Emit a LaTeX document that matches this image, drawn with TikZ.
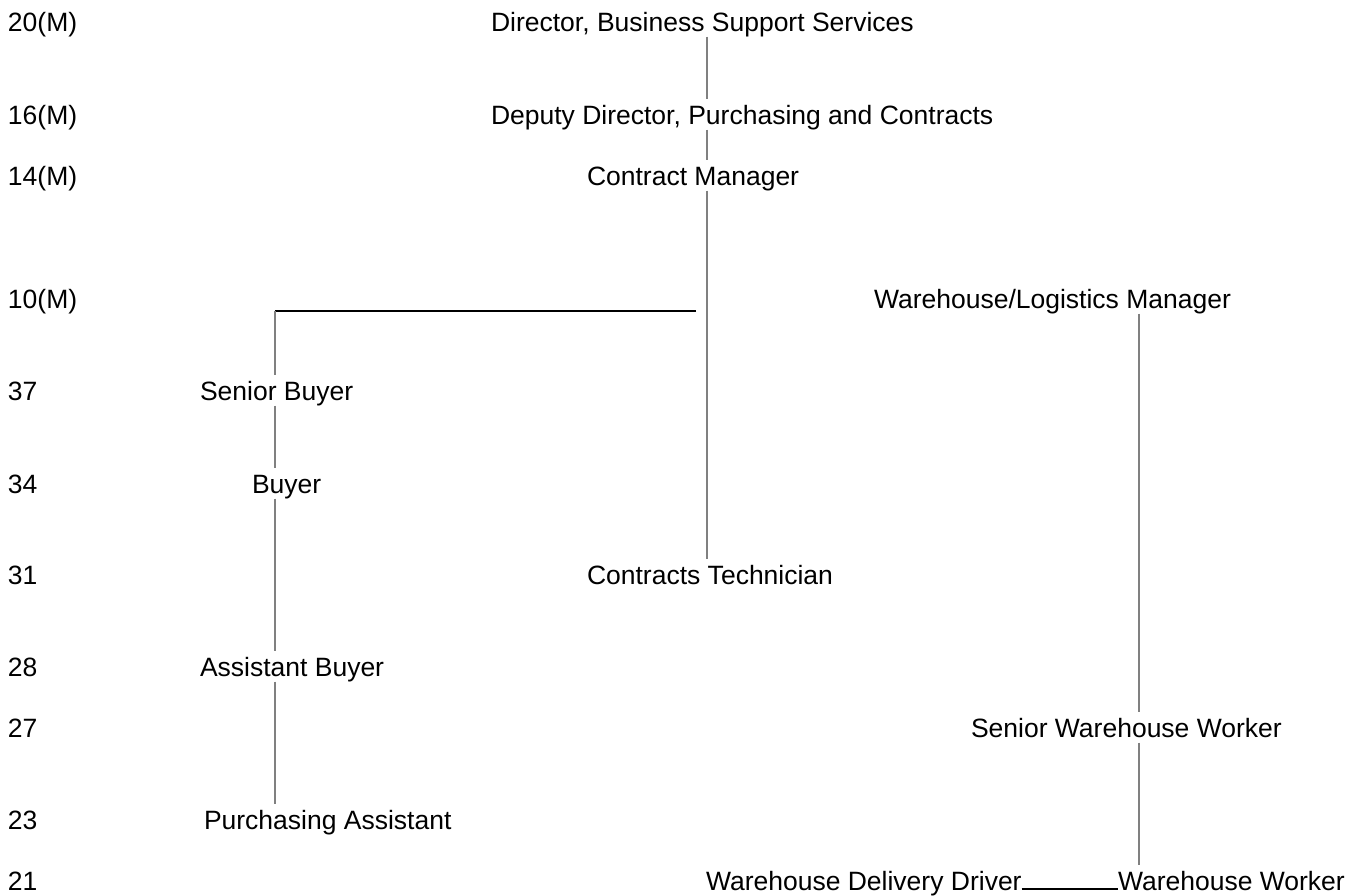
\documentclass[tikz,border=0pt]{standalone}
\usepackage{fontspec}
\setmainfont{Liberation Sans}
\begin{document}
\begin{tikzpicture}[x=1pt,y=-1pt,
  lbl/.style={anchor=base west,inner sep=0pt,outer sep=0pt,text height=26pt,text depth=5pt,font=\fontsize{26.5}{30}\selectfont},
  vline/.style={draw=black!50,line width=1.4pt},
  hline/.style={draw=black,line width=2pt}]
\useasboundingbox (0,0) rectangle (1350,895);
% grade labels
\node[lbl] (g1) at (8,31.5) {20(M)};
\node[lbl] (g2) at (8,124.5) {16(M)};
\node[lbl] (g3) at (8,185.5) {14(M)};
\node[lbl] (g4) at (8,308.5) {10(M)};
\node[lbl] (g5) at (8,400.5) {37};
\node[lbl] (g6) at (8,493.5) {34};
\node[lbl] (g7) at (8,584.5) {31};
\node[lbl] (g8) at (8,676.5) {28};
\node[lbl] (g9) at (8,737.5) {27};
\node[lbl] (g10) at (8,829.5) {23};
\node[lbl] (g11) at (8,890.5) {21};
% positions
\node[lbl] (dir) at (491,31.5) {Director, Business Support Services};
\node[lbl] (dep) at (491,124.5) {Deputy Director, Purchasing and Contracts};
\node[lbl] (cm) at (587,185.5) {Contract Manager};
\node[lbl] (wlm) at (874,308.5) {Warehouse/Logistics Manager};
\node[lbl] (sb) at (200,400.5) {Senior Buyer};
\node[lbl] (b) at (252,493.5) {Buyer};
\node[lbl] (ct) at (587,584.5) {Contracts Technician};
\node[lbl] (ab) at (200,676.5) {Assistant Buyer};
\node[lbl] (sww) at (971,737.5) {Senior Warehouse Worker};
\node[lbl] (pa) at (204,829.5) {Purchasing Assistant};
\node[lbl] (wdd) at (706,890.5) {Warehouse Delivery Driver};
\node[lbl] (ww) at (1118,890.5) {Warehouse Worker};
% line columns
\coordinate (cx) at (707,0);
\coordinate (lx) at (275,0);
\coordinate (rx) at (1139,0);
\coordinate (hr) at (696,311);
\coordinate (hl) at (275,311);
% centre column
\draw[vline] (dir.south -| cx) -- (dep.north -| cx);
\draw[vline] (dep.south -| cx) -- (cm.north -| cx);
\draw[vline] (cm.south -| cx) -- (ct.north -| cx);
% buyer branch
\draw[hline] (hr) -- (hl);
\draw[vline] (hl) -- (sb.north -| lx);
\draw[vline] (sb.south -| lx) -- (b.north -| lx);
\draw[vline] (b.south -| lx) -- (ab.north -| lx);
\draw[vline] (ab.south -| lx) -- (pa.north -| lx);
% warehouse branch
\draw[vline] (wlm.south -| rx) -- (sww.north -| rx);
\draw[vline] (sww.south -| rx) -- (ww.north -| rx);
\draw[hline] ([yshift=2pt]wdd.base east) -- ([yshift=2pt]ww.base west);
\end{tikzpicture}
\end{document}
